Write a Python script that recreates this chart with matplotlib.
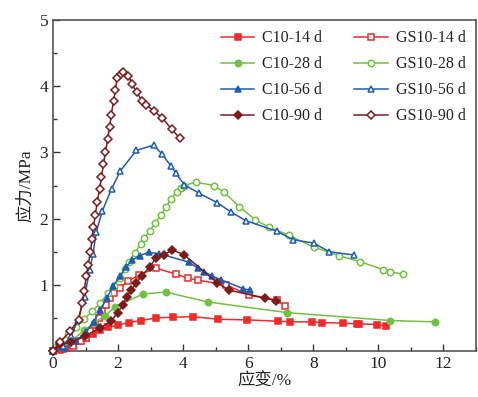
import matplotlib
matplotlib.use("Agg")
import matplotlib.pyplot as plt
from matplotlib.ticker import MultipleLocator

# ---- data ----
c14_x = [0, 0.2, 0.41, 0.61, 0.82, 1.0, 1.23, 1.43, 1.69, 1.99, 2.33, 2.71, 3.17, 3.70, 4.29, 5.07, 5.96, 6.92, 7.29, 7.96, 8.26, 8.90, 9.34, 9.41, 9.97, 10.23]
c14_y = [0, 0.02, 0.04, 0.09, 0.15, 0.19, 0.26, 0.32, 0.36, 0.39, 0.43, 0.46, 0.50, 0.51, 0.52, 0.48, 0.47, 0.45, 0.44, 0.44, 0.43, 0.42, 0.41, 0.41, 0.40, 0.38]

gs14_x = [0, 0.31, 0.61, 0.87, 1.0, 1.15, 1.28, 1.40, 1.52, 1.64, 1.76, 1.88, 2.05, 2.30, 2.64, 3.17, 3.79, 4.14, 4.45, 5.32, 6.03, 6.88, 7.14]
gs14_y = [0, 0.03, 0.07, 0.15, 0.20, 0.30, 0.40, 0.50, 0.60, 0.70, 0.80, 0.88, 0.95, 1.05, 1.15, 1.25, 1.16, 1.10, 1.07, 1.00, 0.84, 0.77, 0.68]

c28_x = [0, 0.3, 0.61, 0.95, 1.25, 1.59, 1.92, 2.76, 3.46, 4.77, 7.19, 10.37, 11.73]
c28_y = [0, 0.07, 0.17, 0.31, 0.42, 0.53, 0.67, 0.86, 0.89, 0.74, 0.58, 0.46, 0.44]

gs28_x = [0, 0.15, 0.45, 0.70, 0.94, 1.21, 1.45, 1.69, 1.86, 2.05, 2.20, 2.33, 2.51, 2.69, 2.81, 2.97, 3.15, 3.32, 3.48, 3.63, 3.80, 3.94, 4.04, 4.38, 4.96, 5.25, 5.73, 6.22, 6.64, 7.24, 8.01, 8.79, 9.43, 10.15, 10.35, 10.75]
gs28_y = [0, 0.12, 0.25, 0.36, 0.48, 0.60, 0.73, 0.87, 0.98, 1.10, 1.24, 1.35, 1.48, 1.61, 1.71, 1.82, 1.93, 2.06, 2.18, 2.30, 2.40, 2.46, 2.50, 2.55, 2.50, 2.40, 2.18, 1.98, 1.87, 1.75, 1.57, 1.44, 1.35, 1.23, 1.20, 1.16]

c56_x = [0, 0.35, 0.7, 1.0, 1.25, 1.45, 1.65, 1.85, 2.05, 2.25, 2.43, 2.66, 2.94, 3.27, 4.19, 4.45, 4.65, 4.89, 5.15, 5.85, 6.04]
c56_y = [0, 0.05, 0.15, 0.28, 0.44, 0.62, 0.80, 0.98, 1.13, 1.27, 1.37, 1.44, 1.49, 1.47, 1.34, 1.25, 1.20, 1.13, 1.08, 0.94, 0.92]

gs56_x = [0, 0.3, 0.55, 0.77, 0.97, 1.13, 1.23, 1.33, 1.52, 1.80, 2.07, 2.56, 3.09, 3.34, 3.63, 3.77, 4.04, 4.50, 5.05, 5.47, 5.92, 6.87, 7.39, 8.01, 8.49, 9.25]
gs56_y = [0, 0.08, 0.22, 0.47, 0.82, 1.23, 1.47, 1.80, 2.12, 2.45, 2.72, 3.03, 3.11, 2.98, 2.79, 2.69, 2.51, 2.38, 2.24, 2.10, 1.97, 1.81, 1.68, 1.63, 1.50, 1.45]

c90_x = [0, 0.23, 0.56, 0.97, 1.43, 1.79, 1.99, 2.15, 2.27, 2.40, 2.55, 2.72, 2.97, 3.17, 3.41, 3.66, 4.04, 5.05, 5.40, 6.52, 6.85]
c90_y = [0, 0.10, 0.13, 0.22, 0.35, 0.45, 0.58, 0.70, 0.82, 0.92, 1.02, 1.13, 1.27, 1.41, 1.45, 1.53, 1.45, 1.03, 0.92, 0.80, 0.76]

gs90_x = [0, 0.23, 0.53, 0.79, 0.89, 0.96, 1.02, 1.08, 1.15, 1.20, 1.24, 1.30, 1.36, 1.43, 1.49, 1.55, 1.61, 1.68, 1.74, 1.79, 1.86, 1.92, 1.97, 2.08, 2.15, 2.32, 2.43, 2.57, 2.74, 2.86, 3.09, 3.36, 3.65, 3.90]
gs90_y = [0, 0.14, 0.30, 0.47, 0.72, 0.90, 1.13, 1.30, 1.49, 1.69, 1.87, 2.06, 2.25, 2.44, 2.63, 2.82, 3.01, 3.20, 3.38, 3.57, 3.77, 3.95, 4.13, 4.18, 4.21, 4.16, 4.03, 3.91, 3.78, 3.72, 3.63, 3.52, 3.35, 3.21]

labels = ["C10-14 d", "GS10-14 d", "C10-28 d", "GS10-28 d",
          "C10-56 d", "GS10-56 d", "C10-90 d", "GS10-90 d"]

RED = "#ee2a2a"
GREEN = "#72c044"
BLUE = "#1f5cb3"
DRED = "#7a1c1c"

plt.rcParams['font.family'] = ['Liberation Serif', 'Noto Sans CJK SC']

fig = plt.figure(figsize=(4.78, 3.97), dpi=100)
ax = fig.add_axes([53/478, 1-351/397, (476-53)/478, (351-20)/397])

series = [
    (c14_x, c14_y, RED, 's', True),
    (gs14_x, gs14_y, RED, 's', False),
    (c28_x, c28_y, GREEN, 'o', True),
    (gs28_x, gs28_y, GREEN, 'o', False),
    (c56_x, c56_y, BLUE, '^', True),
    (gs56_x, gs56_y, BLUE, '^', False),
    (c90_x, c90_y, DRED, 'D', True),
    (gs90_x, gs90_y, DRED, 'D', False),
]
msz = {'s': 4.3, 'o': 4.6, '^': 5.0, 'D': 4.0}
handles = {}
for (x, y, c, m, filled), lab in zip(series, labels):
    h, = ax.plot(x, y, color=c, lw=1.1, marker=m, ms=msz[m],
                 markerfacecolor=c if filled else 'white',
                 markeredgecolor=c, markeredgewidth=1.1, label=lab,
                 clip_on=False, zorder=3)
    handles[lab] = h

ax.set_xlim(0, 13)
ax.set_ylim(0, 5)
ax.set_xticks(range(0, 13, 2))
ax.set_yticks([0, 1, 2, 3, 4, 5])
ax.set_yticklabels(['', '1', '2', '3', '4', '5'])
ax.xaxis.set_minor_locator(MultipleLocator(1))
ax.yaxis.set_minor_locator(MultipleLocator(0.5))
ax.tick_params(which='both', direction='in', top=False, right=False,
               labelsize=12.5, colors='#333333', labelcolor='#222222')
ax.tick_params(which='major', length=5, width=1)
ax.tick_params(which='minor', length=3, width=1)
for s in ax.spines.values():
    s.set_color('#555555')
    s.set_linewidth(1.2)

ax.set_xlabel('应变/%', fontsize=12.5, color='#222222', labelpad=1)
ax.set_ylabel('应力/MPa', fontsize=12.5, color='#222222', labelpad=4)

order = ["C10-14 d", "C10-28 d", "C10-56 d", "C10-90 d",
         "GS10-14 d", "GS10-28 d", "GS10-56 d", "GS10-90 d"]
leg = ax.legend([handles[l] for l in order], order, ncol=2, loc='upper right',
                bbox_to_anchor=(1.0, 1.0), frameon=False, fontsize=11.5,
                handlelength=2.1, handletextpad=0.5, columnspacing=2.0,
                labelspacing=0.62, borderpad=0.45, borderaxespad=0.2)
for t in leg.get_texts():
    t.set_color('#222222')

fig.savefig('out.png', dpi=100)
